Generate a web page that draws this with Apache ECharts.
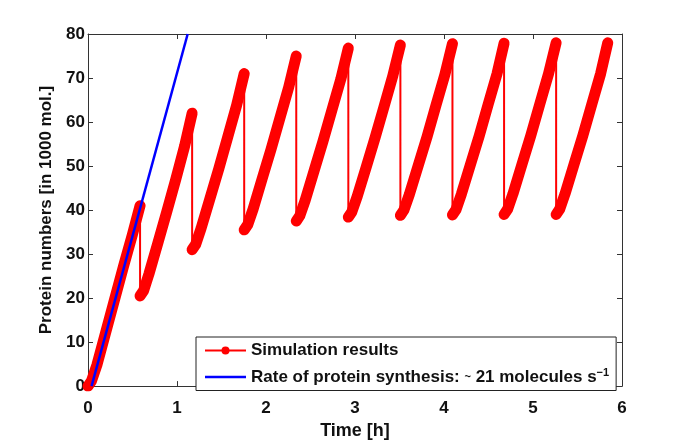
<!DOCTYPE html>
<html>
<head>
	<meta charset="UTF-8">
	<title>Protein numbers</title>
	<script src="https://cdn.jsdelivr.net/npm/echarts@6/dist/echarts.min.js"></script>
	<style>
		html, body { margin: 0; padding: 0; background: #fff; }
	</style>
</head>
<body>
	<div id="chart" style="width: 685px;height: 445px;"></div>
	<script type="text/javascript">
		// simulation: time [h] and protein numbers [1000 mol.], each drop = cell division
		var simTime = [
			0, 0.04, 0.1, 0.2, 0.3, 0.4, 0.5, 0.585,
			0.585, 0.625, 0.685, 0.785, 0.885, 0.985, 1.085, 1.17,
			1.17, 1.21, 1.27, 1.37, 1.47, 1.57, 1.67, 1.755,
			1.755, 1.795, 1.855, 1.955, 2.055, 2.155, 2.255, 2.34,
			2.34, 2.38, 2.44, 2.54, 2.64, 2.74, 2.84, 2.925,
			2.925, 2.965, 3.025, 3.125, 3.225, 3.325, 3.425, 3.51,
			3.51, 3.55, 3.61, 3.71, 3.81, 3.91, 4.01, 4.095,
			4.095, 4.135, 4.195, 4.295, 4.395, 4.495, 4.595, 4.675,
			4.675, 4.715, 4.775, 4.875, 4.975, 5.075, 5.175, 5.26,
			5.26, 5.3, 5.36, 5.46, 5.56, 5.66, 5.76, 5.84
		];
		var simProtein = [
			0, 1.2, 4.8, 12.3, 19.8, 27.3, 34.5, 41,
			20.5, 21.7, 25.5, 32.5, 39.6, 46.9, 54.5, 62,
			31, 32.2, 35.8, 42.6, 49.4, 56.6, 63.8, 71,
			35.5, 36.7, 40.2, 47, 53.7, 60.8, 67.9, 75,
			37.5, 38.7, 42.2, 48.9, 55.6, 62.7, 69.7, 76.8,
			38.4, 39.6, 43.1, 49.7, 56.4, 63.4, 70.5, 77.5,
			38.8, 40, 43.5, 50.1, 56.7, 63.8, 70.8, 77.8,
			38.9, 40.1, 43.6, 50.2, 56.8, 63.9, 70.9, 77.9,
			39, 40.2, 43.7, 50.3, 56.9, 64, 71, 78,
			39, 40.2, 43.7, 50.3, 56.9, 64, 71, 78
		];
		// straight line for ~21 molecules/s
		var rateTime = [0.04, 1.12];
		var rateProtein = [0, 80];

		var xTicks = [0, 1, 2, 3, 4, 5, 6];
		var yTicks = [0, 10, 20, 30, 40, 50, 60, 70, 80];

		var simName = 'Simulation results';
		var rateName = 'Rate of protein synthesis';

		var my_chart = echarts.init(document.getElementById('chart'));

		// all points as a thin line (drops included)
		var simData = simTime.map(function(t, i) {
			return [t, simProtein[i]];
		});
		var rateData = rateTime.map(function(t, i) {
			return [t, rateProtein[i]];
		});

		// thick pieces: split wherever the value drops
		var pieces = [];
		var cur = [];
		for (var i = 0; i < simData.length; i++) {
			if (i > 0 && simData[i][1] < simData[i - 1][1]) {
				pieces.push(cur);
				cur = [];
			}
			cur.push(simData[i]);
		}
		pieces.push(cur);

		var fontFam = '"Liberation Sans", Arial, sans-serif';
		var series = [];
		pieces.forEach(function(p, k) {
			series.push({
				name: 'piece' + k,
				type: 'line',
				data: p,
				symbol: 'none',
				silent: true,
				z: 2,
				lineStyle: { color: '#ff0000', width: 11, cap: 'round', join: 'round' }
			});
		});
		series.push({
			name: simName,
			type: 'line',
			data: simData,
			symbol: 'circle',
			symbolSize: 9,
			showSymbol: false,
			z: 3,
			itemStyle: { color: '#ff0000' },
			lineStyle: { color: '#ff0000', width: 2 }
		});
		series.push({
			name: rateName,
			type: 'line',
			data: rateData,
			symbol: 'none',
			z: 4,
			itemStyle: { color: '#0000ff' },
			lineStyle: { color: '#0000ff', width: 2.5 }
		});

		var axisLine = { show: true, onZero: false, lineStyle: { color: '#333', width: 1 } };
		var axisTick = { show: true, inside: true, length: 5, lineStyle: { color: '#333' } };
		var labelStyle = { color: '#111', fontSize: 17, fontWeight: 'bold', fontFamily: fontFam };

		option = {
			backgroundColor: '#fff',
			animation: false,
			grid: { left: 88, right: 63, top: 34, bottom: 50 },
			legend: {
				data: [simName, {
					name: rateName,
					icon: 'path://M0,0 L41,0 L41,2.5 L0,2.5 Z'
				}],
				orient: 'vertical',
				left: 196,
				top: 337,
				itemWidth: 41,
				itemHeight: 10,
				itemGap: 8,
				padding: [5, 7, 5, 8],
				backgroundColor: '#fff',
				borderColor: '#222',
				borderWidth: 1,
				borderRadius: 0,
				textStyle: {
					color: '#111',
					fontSize: 17,
					fontWeight: 'bold',
					fontFamily: fontFam,
					rich: {
						sup: { fontSize: 11, fontWeight: 'bold', fontFamily: fontFam, color: '#111', padding: [0, 0, 9, 0] },
						tl: { fontSize: 11, fontWeight: 'bold', fontFamily: fontFam, color: '#111' }
					}
				},
				formatter: function(name) {
					if (name === rateName) {
						return name + ': {tl|~} 21 molecules s{sup|\u22121}';
					}
					return name;
				}
			},
			xAxis: [{
				type: 'value',
				min: 0,
				max: 6,
				interval: 1,
				name: 'Time [h]',
				nameLocation: 'middle',
				nameGap: 34,
				nameTextStyle: { color: '#111', fontSize: 18, fontWeight: 'bold', fontFamily: fontFam },
				axisLine: axisLine,
				axisTick: axisTick,
				splitLine: { show: false },
				axisLabel: Object.assign({ margin: 14, customValues: xTicks }, labelStyle)
			}, {
				type: 'value',
				position: 'top',
				min: 0,
				max: 6,
				interval: 1,
				axisLine: axisLine,
				axisTick: axisTick,
				splitLine: { show: false },
				axisLabel: { show: false }
			}],
			yAxis: [{
				type: 'value',
				min: 0,
				max: 80,
				interval: 10,
				name: 'Protein numbers [in 1000 mol.]',
				nameLocation: 'middle',
				nameGap: 29,
				nameTextStyle: { color: '#111', fontSize: 17, fontWeight: 'bold', fontFamily: fontFam },
				axisLine: axisLine,
				axisTick: axisTick,
				splitLine: { show: false },
				axisLabel: Object.assign({ margin: 3, customValues: yTicks }, labelStyle)
			}, {
				type: 'value',
				position: 'right',
				min: 0,
				max: 80,
				interval: 10,
				axisLine: axisLine,
				axisTick: axisTick,
				splitLine: { show: false },
				axisLabel: { show: false }
			}],
			series: series
		};
		my_chart.setOption(option);
	</script>
</body>
</html>
